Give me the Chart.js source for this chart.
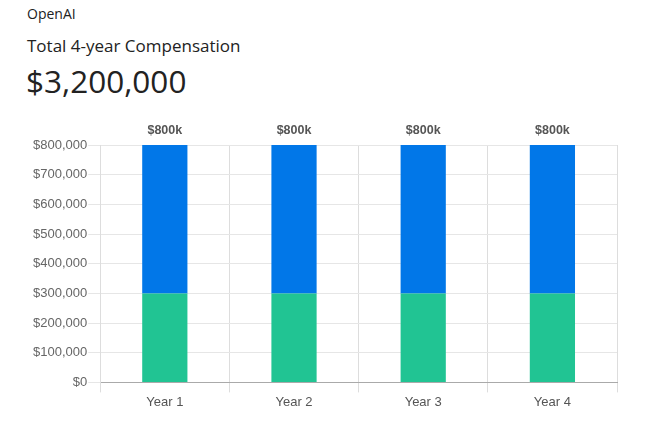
<!DOCTYPE html>
<html>
<head>
<meta charset="utf-8">
<script src="https://cdn.jsdelivr.net/npm/chart.js@4"></script>
<style>
  body{margin:0;background:#fff;font-family:"Open Sans",sans-serif;color:#222;}
  .company{position:absolute;left:27px;top:4px;font-size:14px;}
  .title{position:absolute;left:27px;top:34px;font-size:17px;}
  .total{position:absolute;left:26px;top:59px;font-size:31.5px;}
  .wrap{position:absolute;left:0;top:112px;width:628px;height:300px;}
</style>
</head>
<body>
<div class="company">OpenAI</div>
<div class="title">Total 4-year Compensation</div>
<div class="total">$3,200,000</div>
<div class="wrap"><canvas id="chart"></canvas></div>
<script>
var years=['Year 1','Year 2','Year 3','Year 4'];
var baseSalary=[300000,300000,300000,300000];
var stock=[500000,500000,500000,500000];
var totalLabels=['$800k','$800k','$800k','$800k'];

var topLabels={
  id:'topLabels',
  afterDatasetsDraw:function(chart){
    var ctx=chart.ctx;
    var meta=chart.getDatasetMeta(chart.data.datasets.length-1);
    ctx.save();
    ctx.font='bold 12.5px "Liberation Sans", Arial, sans-serif';
    ctx.fillStyle='#555';
    ctx.textAlign='center';
    ctx.textBaseline='bottom';
    meta.data.forEach(function(bar,i){
      ctx.fillText(totalLabels[i],bar.x,bar.y-8);
    });
    ctx.restore();
  }
};

var chart=new Chart(document.getElementById('chart'),{
  type:'bar',
  data:{
    labels:years,
    datasets:[
      {label:'Base',data:baseSalary,backgroundColor:'#21c493',barPercentage:0.35,categoryPercentage:1},
      {label:'Stock',data:stock,backgroundColor:'#0177e8',barPercentage:0.35,categoryPercentage:1}
    ]
  },
  options:{
    responsive:true,
    maintainAspectRatio:false,
    animation:false,
    layout:{padding:{top:33,left:32,right:11,bottom:0}},
    plugins:{legend:{display:false},tooltip:{enabled:false}},
    scales:{
      x:{
        stacked:true,
        grid:{color:'#ddd',tickLength:10},
        border:{color:'#aaa'},
        ticks:{color:'#555',font:{family:'Liberation Sans',size:13},padding:2}
      },
      y:{
        stacked:true,
        min:0,max:800000,
        grid:{color:'#e6e6e6',tickLength:12},
        border:{color:'#ddd'},
        ticks:{stepSize:100000,color:'#666',font:{family:'Liberation Sans',size:13},padding:1,
          callback:function(v){return '$'+v.toLocaleString('en-US');}}
      }
    }
  },
  plugins:[topLabels]
});
</script>
</body>
</html>
